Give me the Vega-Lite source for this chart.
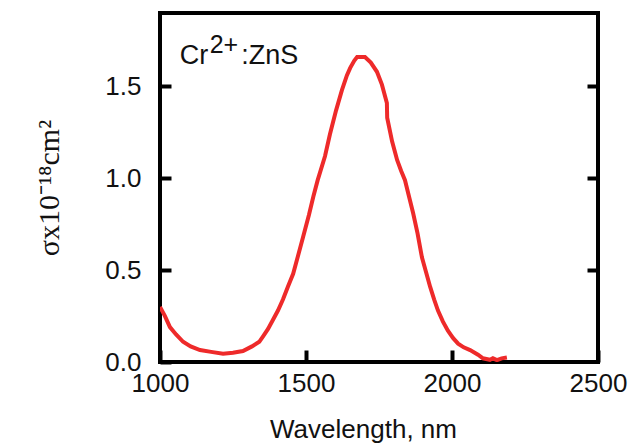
{
  "$schema": "https://vega.github.io/schema/vega-lite/v6.json",
  "width": 438,
  "height": 349,
  "autosize": {"type": "none"},
  "padding": {"left": 160, "top": 13, "right": 32, "bottom": 85},
  "background": "white",
  "config": {
    "view": {"stroke": "black", "strokeWidth": 4},
    "axis": {
      "grid": false,
      "domain": false,
      "ticks": true,
      "tickColor": "black",
      "tickWidth": 4,
      "tickSize": -11,
      "labelFont": "Liberation Sans",
      "labelFontSize": 26,
      "labelColor": "#111",
      "titleFontWeight": "normal",
      "titleColor": "#111"
    }
  },
  "datasets": {
    "spectrum": [
      {"wl": 1000, "s": 0.30}, {"wl": 1017, "s": 0.25}, {"wl": 1034, "s": 0.19},
      {"wl": 1055, "s": 0.15}, {"wl": 1079, "s": 0.11}, {"wl": 1105, "s": 0.085},
      {"wl": 1137, "s": 0.065}, {"wl": 1175, "s": 0.055}, {"wl": 1216, "s": 0.045},
      {"wl": 1250, "s": 0.05}, {"wl": 1284, "s": 0.06}, {"wl": 1315, "s": 0.085},
      {"wl": 1340, "s": 0.11}, {"wl": 1353, "s": 0.14}, {"wl": 1370, "s": 0.18},
      {"wl": 1387, "s": 0.23}, {"wl": 1404, "s": 0.28}, {"wl": 1421, "s": 0.34},
      {"wl": 1438, "s": 0.41}, {"wl": 1456, "s": 0.48}, {"wl": 1473, "s": 0.58},
      {"wl": 1490, "s": 0.68}, {"wl": 1510, "s": 0.80}, {"wl": 1525, "s": 0.90},
      {"wl": 1540, "s": 0.99}, {"wl": 1565, "s": 1.12}, {"wl": 1582, "s": 1.24},
      {"wl": 1603, "s": 1.37}, {"wl": 1623, "s": 1.48}, {"wl": 1640, "s": 1.56},
      {"wl": 1651, "s": 1.60}, {"wl": 1665, "s": 1.64}, {"wl": 1675, "s": 1.66},
      {"wl": 1702, "s": 1.66}, {"wl": 1722, "s": 1.63}, {"wl": 1743, "s": 1.58},
      {"wl": 1760, "s": 1.51}, {"wl": 1777, "s": 1.41}, {"wl": 1778, "s": 1.33},
      {"wl": 1795, "s": 1.20}, {"wl": 1812, "s": 1.10}, {"wl": 1826, "s": 1.04},
      {"wl": 1839, "s": 0.99}, {"wl": 1853, "s": 0.90}, {"wl": 1867, "s": 0.81},
      {"wl": 1882, "s": 0.70}, {"wl": 1897, "s": 0.57}, {"wl": 1911, "s": 0.49},
      {"wl": 1925, "s": 0.41}, {"wl": 1939, "s": 0.34}, {"wl": 1952, "s": 0.28},
      {"wl": 1969, "s": 0.22}, {"wl": 1986, "s": 0.17}, {"wl": 2004, "s": 0.13},
      {"wl": 2021, "s": 0.10}, {"wl": 2040, "s": 0.08}, {"wl": 2062, "s": 0.065},
      {"wl": 2089, "s": 0.04}, {"wl": 2106, "s": 0.02}, {"wl": 2130, "s": 0.012},
      {"wl": 2140, "s": 0.02}, {"wl": 2154, "s": 0.01}, {"wl": 2170, "s": 0.02},
      {"wl": 2188, "s": 0.025}
    ],
    "label": [
      {"wl": 1068, "s": 1.625, "text": "Cr"},
      {"wl": 1278, "s": 1.625, "text": ":ZnS"}
    ],
    "sup": [
      {"wl": 1170, "s": 1.625, "text": "2+"}
    ]
  },
  "layer": [
    {
      "data": {"name": "spectrum"},
      "mark": {"type": "line", "color": "#ee2a2a", "strokeWidth": 4, "clip": true},
      "encoding": {
        "x": {
          "field": "wl", "type": "quantitative",
          "scale": {"domain": [1000, 2500], "nice": false, "zero": false},
          "axis": {
            "values": [1000, 1500, 2000, 2500],
            "format": "d",
            "ticks": true,
            "tickSize": -12,
            "tickWidth": 4,
            "tickColor": "black",
            "title": "Wavelength, nm",
            "titleFont": "Liberation Sans",
            "titleFontSize": 26,
            "titlePadding": 20,
            "titleX": 203,
            "labelPadding": 20,
            "labelFlush": false
          }
        },
        "y": {
          "field": "s", "type": "quantitative",
          "scale": {"domain": [0, 1.9], "nice": false},
          "axis": {
            "values": [0, 0.5, 1, 1.5],
            "format": ".1f",
            "title": "σx10⁻¹⁸cm²",
            "titleFont": "Liberation Serif",
            "titleFontSize": 30,
            "titlePadding": 40,
            "labelPadding": 30
          }
        }
      }
    },
    {
      "data": {"name": "label"},
      "mark": {"type": "text", "align": "left", "baseline": "alphabetic", "font": "Liberation Sans", "fontSize": 27, "color": "#111"},
      "encoding": {
        "x": {"field": "wl", "type": "quantitative"},
        "y": {
          "field": "s", "type": "quantitative",
          "axis": {"orient": "right", "values": [0.5, 1, 1.5], "labels": false, "title": null}
        },
        "text": {"field": "text"}
      }
    },
    {
      "data": {"name": "sup"},
      "mark": {"type": "text", "align": "left", "baseline": "alphabetic", "font": "Liberation Sans", "fontSize": 25, "dy": -11, "color": "#111"},
      "encoding": {
        "x": {"field": "wl", "type": "quantitative"},
        "y": {"field": "s", "type": "quantitative", "axis": null},
        "text": {"field": "text"}
      }
    }
  ],
  "resolve": {"axis": {"y": "independent"}}
}
